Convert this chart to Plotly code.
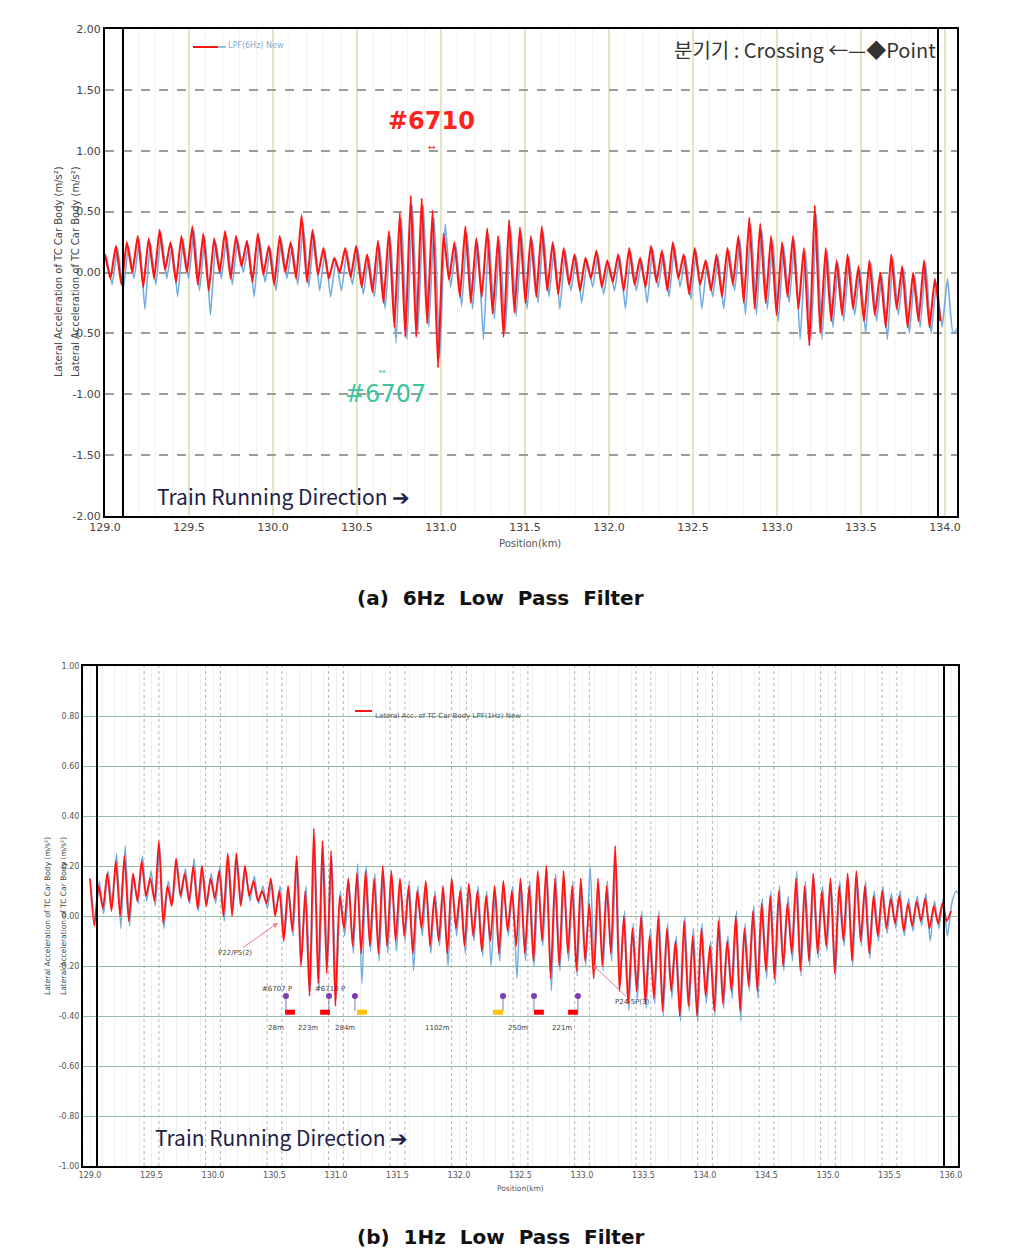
import numpy as np
import plotly.graph_objects as go

W, H = 1012, 1248

# ---------------- (a) 6 Hz low pass filter ----------------
a_start = 129.0          # km, first sample
a_step = 0.0325          # km between samples
a_blue_shift = 0.01      # km offset of the second run
a_red = [0.15, -0.05, 0.22, -0.10, 0.25, 0.00, 0.30, -0.12, 0.28, -0.05,
         0.35, 0.02, 0.25, -0.08, 0.30, 0.00, 0.38, -0.10, 0.32, -0.15,
         0.28, 0.00, 0.34, -0.05, 0.30, 0.05, 0.26, -0.08, 0.32, -0.02,
         0.22, -0.10, 0.30, 0.00, 0.25, -0.05, 0.47, -0.08, 0.35, -0.02,
         0.20, -0.05, 0.12, 0.00, 0.20, -0.04, 0.22, -0.12, 0.15, -0.16,
         0.26, -0.25, 0.34, -0.45, 0.49, -0.53, 0.63, -0.53, 0.61, -0.42,
         0.51, -0.78, 0.32, -0.06, 0.25, -0.20, 0.38, -0.25, 0.28, -0.20,
         0.36, -0.34, 0.30, -0.53, 0.43, -0.33, 0.37, -0.25, 0.30, -0.20,
         0.38, -0.15, 0.25, -0.18, 0.20, -0.10, 0.15, -0.15, 0.12, -0.05,
         0.18, -0.12, 0.10, -0.08, 0.15, -0.15, 0.20, -0.10, 0.12, -0.12,
         0.22, -0.08, 0.18, -0.15, 0.25, -0.05, 0.15, -0.18, 0.20, -0.10,
         0.10, -0.15, 0.15, -0.20, 0.20, -0.10, 0.30, -0.25, 0.45, -0.30,
         0.40, -0.25, 0.30, -0.35, 0.25, -0.20, 0.30, -0.30, 0.20, -0.60,
         0.55, -0.50, 0.20, -0.40, 0.10, -0.35, 0.15, -0.30, 0.05, -0.40,
         0.10, -0.35, 0.00, -0.45, 0.15, -0.30, 0.05, -0.45, 0.00, -0.40,
         0.10, -0.45, -0.05, -0.40]
a_blue = [0.12, -0.10, 0.20, -0.15, 0.22, -0.05, 0.27, -0.30, 0.25, -0.10,
          0.32, -0.05, 0.22, -0.20, 0.27, -0.05, 0.35, -0.15, 0.30, -0.35,
          0.25, -0.05, 0.30, -0.10, 0.27, 0.00, 0.23, -0.20, 0.28, -0.08,
          0.20, -0.15, 0.27, -0.05, 0.22, -0.10, 0.40, -0.12, 0.32, -0.15,
          0.18, -0.20, 0.10, -0.15, 0.18, -0.10, 0.20, -0.18, 0.13, -0.20,
          0.22, -0.30, 0.30, -0.58, 0.45, -0.55, 0.55, -0.50, 0.55, -0.45,
          0.45, -0.70, 0.40, -0.12, 0.22, -0.28, 0.33, -0.30, 0.25, -0.55,
          0.32, -0.38, 0.27, -0.50, 0.38, -0.36, 0.33, -0.30, 0.27, -0.25,
          0.33, -0.20, 0.22, -0.30, 0.18, -0.15, 0.13, -0.25, 0.10, -0.12,
          0.15, -0.18, 0.08, -0.15, 0.13, -0.30, 0.17, -0.15, 0.10, -0.25,
          0.20, -0.12, 0.15, -0.20, 0.22, -0.12, 0.13, -0.22, 0.18, -0.30,
          0.08, -0.20, 0.13, -0.30, 0.18, -0.15, 0.27, -0.35, 0.40, -0.35,
          0.35, -0.30, 0.27, -0.40, 0.22, -0.25, 0.27, -0.55, 0.18, -0.55,
          0.48, -0.55, 0.18, -0.45, 0.08, -0.40, 0.12, -0.35, 0.03, -0.50,
          0.08, -0.40, -0.02, -0.55, 0.12, -0.35, 0.03, -0.50, -0.02, -0.45,
          0.08, -0.50, -0.08, -0.45, -0.05, -0.50, -0.45]
a_xticks = [129.0, 129.5, 130.0, 130.5, 131.0, 131.5, 132.0, 132.5, 133.0, 133.5, 134.0]
a_yticks = [2.0, 1.5, 1.0, 0.5, 0.0, -0.5, -1.0, -1.5, -2.0]

# ---------------- (b) 1 Hz low pass filter ----------------
b_start = 129.0
b_step = 0.035
b_red = [0.15, -0.04, 0.12, 0.03, 0.17, 0.02, 0.22, 0.00, 0.24, -0.02,
         0.17, 0.06, 0.22, 0.08, 0.15, 0.06, 0.30, -0.03, 0.12, 0.04,
         0.23, 0.08, 0.17, 0.06, 0.20, 0.03, 0.20, 0.04, 0.15, 0.07,
         0.18, 0.00, 0.25, 0.00, 0.25, 0.04, 0.20, 0.08, 0.14, 0.06,
         0.10, 0.05, 0.15, 0.00, 0.10, -0.10, 0.12, -0.06, 0.24, -0.20,
         0.10, -0.32, 0.35, -0.27, 0.30, -0.23, 0.26, -0.36, 0.08, -0.05,
         0.15, -0.12, 0.17, -0.15, 0.18, -0.12, 0.15, -0.15, 0.20, -0.12,
         0.18, -0.10, 0.15, -0.08, 0.12, -0.15, 0.10, -0.05, 0.14, -0.12,
         0.08, -0.10, 0.12, -0.15, 0.15, -0.05, 0.10, -0.12, 0.13, -0.08,
         0.10, -0.14, 0.08, -0.10, 0.12, -0.15, 0.14, -0.06, 0.10, -0.12,
         0.15, -0.15, 0.12, -0.18, 0.18, -0.10, 0.20, -0.25, 0.15, -0.20,
         0.18, -0.15, 0.12, -0.22, 0.15, -0.18, 0.05, -0.25, 0.15, -0.20,
         0.12, -0.15, 0.28, -0.30, 0.00, -0.35, -0.05, -0.30, 0.00, -0.35,
         -0.08, -0.33, 0.00, -0.38, -0.05, -0.30, -0.10, -0.40, -0.02, -0.36,
         -0.08, -0.40, -0.05, -0.32, -0.12, -0.38, -0.02, -0.35, -0.10, -0.30,
         0.00, -0.38, -0.05, -0.28, 0.02, -0.30, 0.05, -0.22, 0.08, -0.25,
         0.10, -0.20, 0.05, -0.15, 0.15, -0.22, 0.12, -0.18, 0.17, -0.15,
         0.10, -0.12, 0.15, -0.23, 0.12, -0.10, 0.17, -0.18, 0.18, -0.10,
         0.12, -0.15, 0.08, -0.08, 0.10, -0.05, 0.07, -0.03, 0.08, -0.06,
         0.05, -0.04, 0.06, -0.02, 0.07, -0.05, 0.04, -0.03, 0.05, -0.02,
         0.02]
b_blue = [0.12, -0.02, 0.14, 0.01, 0.18, 0.04, 0.25, -0.05, 0.28, -0.04,
          0.15, 0.05, 0.24, 0.06, 0.18, 0.04, 0.28, -0.05, 0.14, 0.05,
          0.21, 0.07, 0.19, 0.05, 0.23, 0.02, 0.18, 0.05, 0.17, 0.05,
          0.20, -0.02, 0.24, 0.02, 0.22, 0.05, 0.18, 0.06, 0.16, 0.05,
          0.12, 0.03, 0.13, 0.02, 0.12, -0.08, 0.10, -0.08, 0.22, -0.18,
          0.12, -0.30, 0.32, -0.30, 0.28, -0.20, 0.24, -0.33, 0.10, -0.08,
          0.13, -0.15, 0.21, -0.27, 0.20, -0.14, 0.17, -0.18, 0.18, -0.15,
          0.16, -0.14, 0.13, -0.10, 0.14, -0.22, 0.12, -0.08, 0.12, -0.15,
          0.10, -0.12, 0.10, -0.20, 0.14, -0.08, 0.12, -0.15, 0.11, -0.10,
          0.12, -0.16, 0.10, -0.20, 0.10, -0.18, 0.12, -0.08, 0.12, -0.25,
          0.13, -0.18, 0.14, -0.20, 0.16, -0.12, 0.18, -0.30, 0.17, -0.22,
          0.16, -0.18, 0.14, -0.24, 0.13, -0.20, 0.20, -0.22, 0.13, -0.22,
          0.14, -0.18, 0.22, -0.28, 0.02, -0.38, -0.03, -0.33, 0.02, -0.37,
          -0.05, -0.35, 0.02, -0.40, -0.03, -0.33, -0.08, -0.42, 0.00, -0.38,
          -0.05, -0.42, -0.03, -0.35, -0.10, -0.40, 0.00, -0.37, -0.08, -0.33,
          0.02, -0.42, -0.03, -0.30, 0.04, -0.33, 0.07, -0.25, 0.10, -0.27,
          0.12, -0.22, 0.08, -0.18, 0.18, -0.24, 0.14, -0.20, 0.15, -0.17,
          0.12, -0.14, 0.13, -0.25, 0.14, -0.12, 0.15, -0.20, 0.16, -0.12,
          0.14, -0.17, 0.10, -0.10, 0.12, -0.07, 0.09, -0.05, 0.10, -0.08,
          0.07, -0.06, 0.08, -0.04, 0.09, -0.10, 0.06, -0.05, 0.07, -0.08,
          0.05, 0.10, 0.08]
b_xticks = [129.0, 129.5, 130.0, 130.5, 131.0, 131.5, 132.0, 132.5, 133.0, 133.5,
            134.0, 134.5, 135.0, 135.5, 136.0]
b_yticks = [1.0, 0.8, 0.6, 0.4, 0.2, 0.0, -0.2, -0.4, -0.6, -0.8, -1.0]

# turnout markers in (b)
pin_km = [130.593, 130.943, 131.154, 132.358, 132.610, 132.967]
pin_top, pin_bottom = -0.32, -0.38
rect_red_km = [130.626, 130.911, 132.650, 132.927]
rect_yel_km = [131.211, 132.317]
rect_y = -0.385
pin_labels = ["#6707 P", "#6710 P"]
pin_label_km = [130.52, 130.951]
pin_label_y = -0.292
dist_labels = ["28m", "223m", "284m", "1102m", "250m", "221m"]
dist_km = [130.512, 130.772, 131.073, 131.829, 132.480, 132.837]
dist_y = -0.448

RED = "#ff1414"
BLUE = "#72acdf"


def px(x):
    return x / W


def py(y):
    return 1 - y / H


fig = go.Figure()

# ---- traces (a)
xa_red = a_start + a_step * np.arange(len(a_red))
xa_blue = a_start + a_blue_shift + a_step * np.arange(len(a_blue))
fig.add_trace(go.Scatter(x=xa_blue, y=a_blue, mode="lines",
                         line=dict(color=BLUE, width=1.6, shape="spline", smoothing=0.4),
                         xaxis="x", yaxis="y", showlegend=False, hoverinfo="skip"))
fig.add_trace(go.Scatter(x=xa_red, y=a_red, mode="lines",
                         line=dict(color=RED, width=2.1, shape="spline", smoothing=0.4),
                         xaxis="x", yaxis="y", showlegend=False, hoverinfo="skip"))

# ---- traces (b)
xb_red = b_start + b_step * np.arange(len(b_red))
xb_blue = b_start + b_step * np.arange(len(b_blue)) + 0.006
fig.add_trace(go.Scatter(x=xb_blue, y=b_blue, mode="lines",
                         line=dict(color=BLUE, width=1.5, shape="spline", smoothing=0.6),
                         xaxis="x2", yaxis="y2", showlegend=False, hoverinfo="skip"))
fig.add_trace(go.Scatter(x=xb_red, y=b_red, mode="lines",
                         line=dict(color=RED, width=1.8, shape="spline", smoothing=0.6),
                         xaxis="x2", yaxis="y2", showlegend=False, hoverinfo="skip"))

# pins
px_l, py_l = [], []
for k in pin_km:
    px_l += [k, k, None]
    py_l += [pin_top, pin_bottom, None]
fig.add_trace(go.Scatter(x=px_l, y=py_l, mode="lines", line=dict(color="#7a7fc0", width=1),
                         xaxis="x2", yaxis="y2", showlegend=False, hoverinfo="skip"))
fig.add_trace(go.Scatter(x=pin_km, y=[pin_top] * len(pin_km), mode="markers",
                         marker=dict(color="#7b3fb5", size=6),
                         xaxis="x2", yaxis="y2", showlegend=False, hoverinfo="skip"))
for kms, col in [(rect_red_km, "#ff0000"), (rect_yel_km, "#ffc000")]:
    rx, ry = [], []
    for k in kms:
        rx += [k - 0.04, k + 0.04, None]
        ry += [rect_y, rect_y, None]
    fig.add_trace(go.Scatter(x=rx, y=ry, mode="lines", line=dict(color=col, width=5),
                             xaxis="x2", yaxis="y2", showlegend=False, hoverinfo="skip"))

# ---- axes
a_x0, a_x1 = 105, 957
b_x0, b_x1 = 83, 958
a_pxkm = 168.0
b_pxkm = 123.0
fig.update_layout(
    width=W, height=H, margin=dict(l=0, r=0, t=0, b=0, pad=0, autoexpand=False),
    paper_bgcolor="white", plot_bgcolor="white", showlegend=False,
    font=dict(family="DejaVu Sans", color="#333"),
    xaxis=dict(domain=[px(a_x0), px(a_x1)], range=[a_start, a_start + (a_x1 - a_x0) / a_pxkm],
               anchor="y", tickvals=a_xticks, ticktext=[f"{v:.1f}" for v in a_xticks],
               tickfont=dict(size=11, color="#444"), ticks="", showgrid=True, automargin=False,
               gridcolor="#e2e5bd", gridwidth=1.5, zeroline=False,
               minor=dict(dtick=0.1, tick0=129.0, showgrid=True, gridcolor="#f3f3ee", gridwidth=1),
               showline=True, mirror=True, linecolor="black", linewidth=2),
    yaxis=dict(domain=[py(516), py(29)], range=[-2.0, 2.0], anchor="x", automargin=False,
               tickvals=a_yticks, ticktext=[f"{v:.2f}" for v in a_yticks],
               tickfont=dict(size=11, color="#444"), ticks="", showgrid=True,
               gridcolor="#9c9c9c", gridwidth=1.5, griddash="dash", zeroline=False,
               showline=True, mirror=True, linecolor="black", linewidth=2),
    xaxis2=dict(domain=[px(b_x0), px(b_x1)], automargin=False,
                range=[b_start - (90 - b_x0) / b_pxkm, b_start + (b_x1 - 90) / b_pxkm],
                anchor="y2", tickvals=b_xticks, ticktext=[f"{v:.1f}" for v in b_xticks],
                tickfont=dict(size=8, color="#555"), ticks="", showgrid=False, zeroline=False,
                minor=dict(dtick=0.1, tick0=129.0, showgrid=True, gridcolor="#efefef", gridwidth=1),
                showline=True, mirror=True, linecolor="black", linewidth=2),
    yaxis2=dict(domain=[py(1166), py(666)], range=[-1.0, 1.0], anchor="x2", automargin=False,
                tickvals=b_yticks, ticktext=[f"{v:.2f}" for v in b_yticks],
                tickfont=dict(size=8, color="#555"), ticks="", showgrid=True,
                gridcolor="#98bba4", gridwidth=1, zeroline=False,
                showline=True, mirror=True, linecolor="black", linewidth=2),
)

shapes = []
# doubled frame lines (two overlaid plots in the original)
shapes.append(dict(type="line", xref="paper", yref="paper", x0=px(123), x1=px(123),
                   y0=py(516), y1=py(29), line=dict(color="black", width=2)))
shapes.append(dict(type="line", xref="paper", yref="paper", x0=px(938), x1=px(938),
                   y0=py(516), y1=py(29), line=dict(color="black", width=2)))
shapes.append(dict(type="line", xref="paper", yref="paper", x0=px(97), x1=px(97),
                   y0=py(1166), y1=py(666), line=dict(color="black", width=2)))
shapes.append(dict(type="line", xref="paper", yref="paper", x0=px(944), x1=px(944),
                   y0=py(1166), y1=py(666), line=dict(color="black", width=2)))
# dashed vertical grid pairs in (b)
for t in b_xticks:
    for d in (-0.06, 0.06):
        shapes.append(dict(type="line", xref="x2", yref="y2", x0=t + d, x1=t + d, y0=-1, y1=1,
                           line=dict(color="#b4b4b4", width=1, dash="dot"), layer="below"))
# legend glyphs
shapes.append(dict(type="line", xref="paper", yref="paper", x0=px(193), x1=px(218),
                   y0=py(47), y1=py(47), line=dict(color=RED, width=2)))
shapes.append(dict(type="line", xref="paper", yref="paper", x0=px(218), x1=px(226),
                   y0=py(47), y1=py(47), line=dict(color=BLUE, width=1.5)))
shapes.append(dict(type="line", xref="paper", yref="paper", x0=px(355), x1=px(372),
                   y0=py(711), y1=py(711), line=dict(color=RED, width=2)))
fig.update_layout(shapes=shapes)

ann = []


def txt(x, y, s, size, color="#333", xanchor="center", bold=False, family="DejaVu Sans",
        xref="paper", yref="paper", angle=0):
    ann.append(dict(x=x, y=y, xref=xref, yref=yref, text=(f"<b>{s}</b>" if bold else s),
                    showarrow=False, xanchor=xanchor, yanchor="middle", textangle=angle,
                    font=dict(size=size, color=color, family=family)))


# (a) texts
txt(px(226), py(46), "LPF(6Hz) New", 8, color="#7fb0d8", xanchor="left")
txt(px(938), py(50), "분기기 : Crossing ←—◆Point", 20, color="#333", xanchor="right",
    family="Noto Sans CJK KR")
txt(130.946, 1.245, "#6710", 24, color="#ff2020", bold=True, xref="x", yref="y")
txt(130.946, 1.03, "↔", 9, color="#ff2020", xref="x", yref="y")
txt(130.667, -1.0, "#6707", 24, color="#3cc4a0", xref="x", yref="y")
txt(130.649, -0.81, "↔", 8, color="#3cc4a0", xref="x", yref="y")
txt(px(155), py(496), "Train Running Direction ➔", 21, color="#1e1e46", xanchor="left",
    family="Noto Sans CJK KR")
for xx in (58, 75):
    txt(px(xx), py(272), "Lateral Acceleration of TC Car Body (m/s²)", 10, color="#444", angle=-90)
txt(px(530), py(543), "Position(km)", 10, color="#555")
txt(px(500), py(598), "(a)  6Hz  Low  Pass  Filter", 20, color="#111", bold=True)

# (b) texts
txt(px(373), py(716), "Lateral Acc. of TC Car Body LPF(1Hz) New", 7, color="#555", xanchor="left")
txt(px(153), py(1137), "Train Running Direction ➔", 21, color="#1e1e46", xanchor="left",
    family="Noto Sans CJK KR")
for xx in (48, 64):
    txt(px(xx), py(916), "Lateral Acceleration of TC Car Body (m/s²)", 7.5, color="#444", angle=-90)
txt(px(520), py(1188), "Position(km)", 7.5, color="#555")
txt(px(500), py(1237), "(b)  1Hz  Low  Pass  Filter", 20, color="#111", bold=True)
for s, k in zip(pin_labels, pin_label_km):
    txt(k, pin_label_y, s, 7, color="#444", xref="x2", yref="y2")
for s, k in zip(dist_labels, dist_km):
    txt(k, dist_y, s, 7, color="#444", xref="x2", yref="y2")

# arrows with labels
ann.append(dict(x=130.528, y=-0.028, xref="x2", yref="y2", ax=130.18, ay=-0.148,
                axref="x2", ayref="y2", text="P22/P5(2)", showarrow=True, arrowhead=2,
                arrowsize=1, arrowwidth=1, arrowcolor="#e87a8a",
                font=dict(size=7, color="#444")))
ann.append(dict(x=133.089, y=-0.196, xref="x2", yref="y2", ax=133.407, ay=-0.344,
                axref="x2", ayref="y2", text="P24-5P(3)", showarrow=True, arrowhead=2,
                arrowsize=1, arrowwidth=1, arrowcolor="#e87a8a",
                font=dict(size=7, color="#444")))
fig.update_layout(annotations=ann)

fig.write_html("out.html")
